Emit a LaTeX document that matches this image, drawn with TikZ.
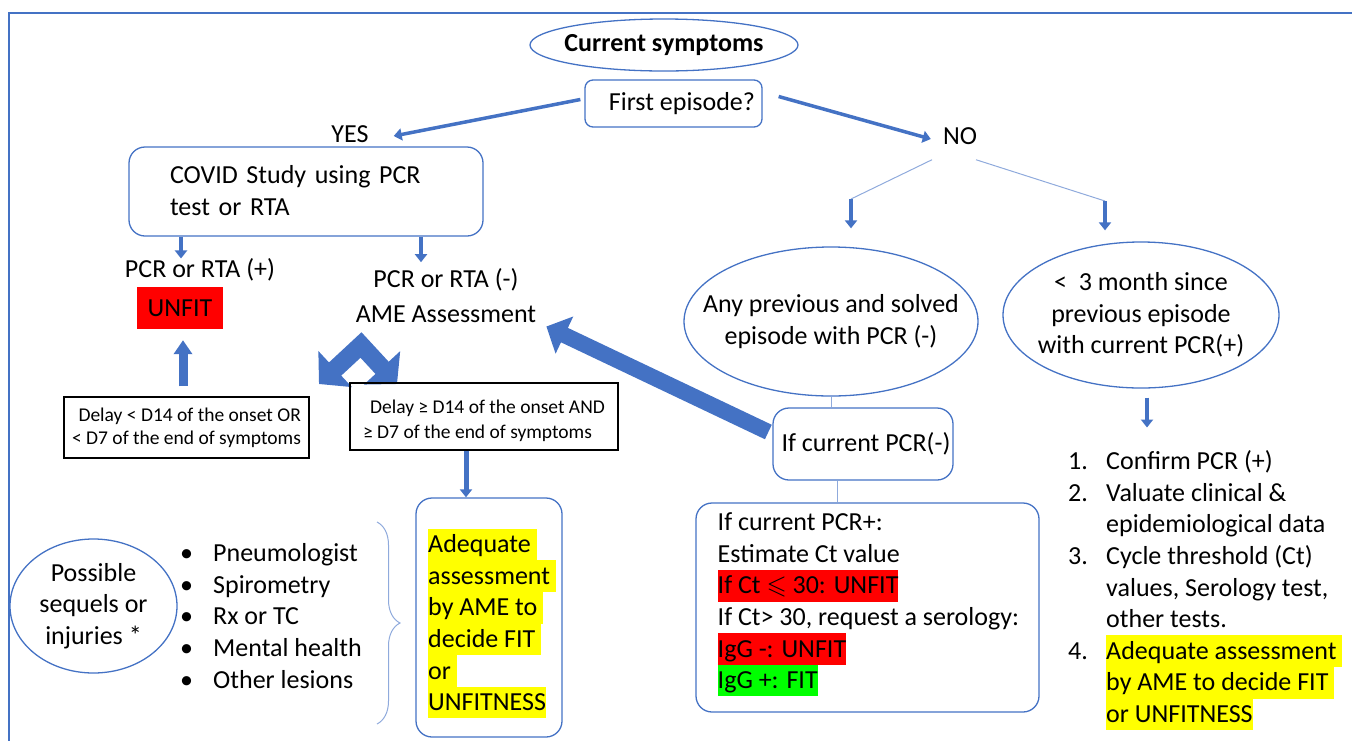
\documentclass[tikz,border=0pt]{standalone}
\usepackage{fontspec}
\setmainfont{Carlito}
\usepackage{amssymb}
\usetikzlibrary{calc}
\usetikzlibrary{positioning}
\usetikzlibrary{shapes.geometric}
\usetikzlibrary{arrows.meta}
\usetikzlibrary{decorations.pathreplacing}

\definecolor{ppblue}{RGB}{68,114,196}
\definecolor{ppthin}{RGB}{143,170,220}
\definecolor{hlred}{RGB}{255,0,0}
\definecolor{hlyellow}{RGB}{255,255,0}
\definecolor{hlgreen}{RGB}{0,255,0}

\newcommand{\bodysize}{\fontsize{26}{31.6}\selectfont}
\newcommand{\smallsize}{\fontsize{19.5}{23}\selectfont}
\newcommand{\lnstrut}{\rule[-7.6pt]{0pt}{31.6pt}}
\newcommand{\hlline}[2]{{\fboxsep=0pt\colorbox{#1}{\lnstrut#2}}}

\tikzstyle{ovalnode} = [draw=ppblue, line width=1.3pt, ellipse, inner xsep=-80pt, inner ysep=0pt, align=center, font=\bodysize]
\tikzstyle{boxnode} = [draw=ppblue, line width=1.3pt, rounded corners=16pt, inner sep=0pt]
\tikzstyle{delaynode} = [draw=black, line width=1.2pt, inner sep=0pt, font=\smallsize]
\tikzstyle{txtnode} = [inner sep=0pt, font=\bodysize]
\tikzstyle{thinarrow} = [ppblue, line width=3.5pt, -{Triangle[length=8pt,width=12pt]}]
\tikzstyle{fatarrow} = [ppblue, line width=16pt, -{Triangle[length=20pt,width=40pt]}]
\tikzstyle{thinline} = [ppthin, line width=1pt]

\begin{document}
\begin{tikzpicture}[x=1pt, y=-1pt]
  \useasboundingbox (0,0) rectangle (1352,740);
  \clip (0,0) rectangle (1352,740);
  \draw[ppblue, line width=2pt] (9,760) -- (9,13) -- (1370,13);

  % top of the chart
  \node[ovalnode, minimum width=268pt, minimum height=52pt, font=\bodysize\bfseries] (symptoms) at (664,45) {Current symptoms};
  \node[boxnode, rounded corners=8pt, minimum width=177pt, minimum height=47pt, font=\bodysize] (first) at (673.5,103.5) {\hspace*{17pt}First episode?};
  \node[txtnode] (yes) at (350,134) {YES};
  \node[txtnode] (no) at (960,136) {NO};
  \draw[thinarrow] ([shift={(-4,-4)}]first.west) -- ([shift={(25,2)}]yes.east);
  \draw[thinarrow] ([shift={(16,-7)}]first.east) -- ([shift={(-12,3)}]no.west);

  % yes branch
  \node[boxnode, minimum width=354pt, minimum height=89pt, inner xsep=41pt, text width=272pt, align=left, font=\bodysize] (covid) at (306,191.5) {\lnstrut COVID Study using PCR\\\lnstrut test or RTA};
  \node[txtnode] (pcrpos) at (200,270) {PCR or RTA (+)};
  \node[txtnode, fill=hlred, minimum width=86pt, minimum height=42pt] (unfit) at (180,308) {UNFIT};
  \node[txtnode, align=center] (pcrminus) at (446,295.5) {PCR or RTA (-)\\[3.4pt]AME Assessment};
  \draw[thinarrow] ([xshift=-19pt]pcrpos.north |- covid.south) -- ([xshift=-19pt]pcrpos.north);
  \draw[thinarrow, shorten >=6pt] ([xshift=-25pt]pcrminus.north |- covid.south) -- ([xshift=-25pt]pcrminus.north);

  \coordinate (chevleft) at (319,384);
  \coordinate (chevtop) at (361,345);
  \coordinate (chevright) at (397,384);
  \draw[ppblue, line width=18pt, line join=miter, {Triangle[length=22pt,width=48pt]}-{Triangle[length=22pt,width=48pt]}] (chevleft) -- (chevtop) -- (chevright);

  \node[delaynode, minimum width=245pt, minimum height=61pt, align=right] (delayless) at (186.5,427.5) {Delay < D14 of the onset OR\\< D7 of the end of symptoms};
  \node[delaynode, minimum width=268pt, minimum height=67pt, align=left] (delaygeq) at (484,416.5) {\rule{0pt}{23pt}\hspace*{7pt}Delay ≥ D14 of the onset AND\\[2pt]≥ D7 of the end of symptoms};
  \draw[ppblue, line width=9pt, -{Triangle[length=14pt,width=18pt]}, shorten <=10pt, shorten >=11pt] ([xshift=-3.5pt]delayless.north) -- ([xshift=-3.5pt]delayless.north |- unfit.south);

  % bottom left
  \node[ovalnode, minimum width=167pt, minimum height=134pt] (sequels) at (93.5,606) {Possible\\sequels or\\injuries *};
  \node[txtnode, anchor=north west, align=left] (checks) at (180,537.5) {\lnstrut\makebox[33pt][l]{•}Pneumologist\\\lnstrut\makebox[33pt][l]{•}Spirometry\\\lnstrut\makebox[33pt][l]{•}Rx or TC\\\lnstrut\makebox[33pt][l]{•}Mental health\\\lnstrut\makebox[33pt][l]{•}Other lesions};
  \draw[thinline, decorate, decoration={brace, amplitude=23pt}] (377,522) -- (377,724);
  \node[boxnode, minimum width=146pt, minimum height=239pt] (adequate) at (489,617.5) {};
  \node[txtnode, anchor=north west, align=left] (adequatetxt) at (428,528.5) {\hlline{hlyellow}{Adequate\ }\\\hlline{hlyellow}{assessment\ }\\\hlline{hlyellow}{by AME to\ }\\\hlline{hlyellow}{decide FIT\ }\\\hlline{hlyellow}{or\ }\\\hlline{hlyellow}{UNFITNESS}};
  \draw[thinarrow, line width=5pt] ([xshift=-18pt]delaygeq.south) -- ([xshift=-18pt]delaygeq.south |- adequate.north);

  % no branch
  \coordinate (splitleft) at (851,199);
  \coordinate (splitright) at (1105,201);
  \draw[thinline] ([shift={(-28,15)}]no.south) -- (splitleft);
  \draw[thinline] ([shift={(16,15)}]no.south) -- (splitright);
  \node[ovalnode, minimum width=294pt, minimum height=149pt] (anyprev) at (831,321.5) {Any previous and solved\\episode with PCR (-)};
  \node[ovalnode, minimum width=276pt, minimum height=146pt] (recent) at (1141,315) {<~~3 month since\\previous episode\\with current PCR(+)};
  \draw[thinarrow, shorten >=18pt] (splitleft) -- (splitleft |- anyprev.north);
  \draw[thinarrow, shorten >=11pt] (splitright) -- (splitright |- recent.north);

  \node[boxnode, minimum width=180pt, minimum height=72pt, font=\bodysize] (pcrnegbox) at (863,444) {\hspace*{6pt}If current PCR(-)};
  \draw[fatarrow] ([shift={(-4,-12)}]pcrnegbox.west) -- ([shift={(10,31)}]pcrminus.east);
  \draw[thinline] (anyprev.south) -- (anyprev.south |- pcrnegbox.north);
  \node[boxnode, minimum width=343pt, minimum height=209pt] (ctbox) at (867.5,607.5) {};
  \draw[thinline] ([xshift=-26pt]pcrnegbox.south) -- ([xshift=-26pt]pcrnegbox.south |- ctbox.north);
  \node[txtnode, anchor=north west, align=left] (cttxt) at (717.5,506.5) {\lnstrut If current PCR+:\\\lnstrut Estimate Ct value\\\hlline{hlred}{If Ct $\leqslant$ 30: UNFIT}\\\lnstrut If Ct> 30, request a serology:\\\hlline{hlred}{IgG -: UNFIT}\\\hlline{hlgreen}{IgG +: FIT}};

  \node[txtnode, anchor=north west, align=left] (steps) at (1068,445.5) {\lnstrut\makebox[38pt][l]{1.}Confirm PCR (+)\\\lnstrut\makebox[38pt][l]{2.}Valuate clinical \&\\\lnstrut\makebox[38pt][l]{}epidemiological data\\\lnstrut\makebox[38pt][l]{3.}Cycle threshold (Ct)\\\lnstrut\makebox[38pt][l]{}values, Serology test,\\\lnstrut\makebox[38pt][l]{}other tests.\\\lnstrut\makebox[38pt][l]{4.}\hlline{hlyellow}{Adequate assessment\ }\\\makebox[38pt][l]{}\hlline{hlyellow}{by AME to decide FIT\ }\\\makebox[38pt][l]{}\hlline{hlyellow}{or UNFITNESS}};
  \draw[thinarrow, shorten <=9pt, shorten >=18pt] ([xshift=6pt]recent.south) -- ([xshift=6pt]recent.south |- steps.north);
\end{tikzpicture}
\end{document}
